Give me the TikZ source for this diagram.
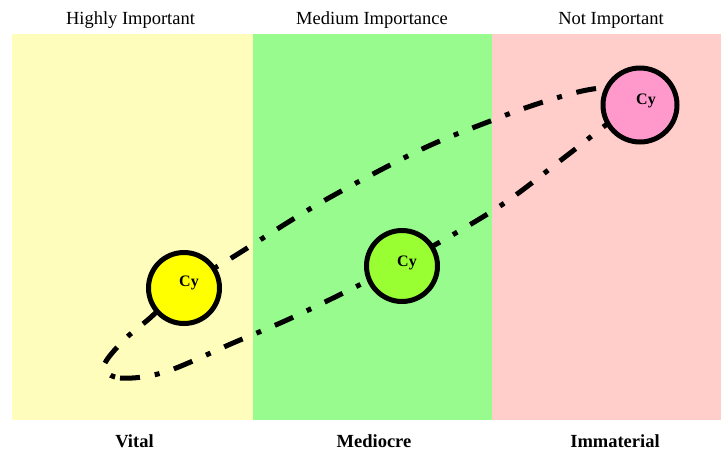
\documentclass[tikz,border=0pt]{standalone}
\usepackage{fontspec}
\setmainfont{Liberation Serif}
\definecolor{panelY}{RGB}{255,253,187}
\definecolor{panelG}{RGB}{152,251,142}
\definecolor{panelR}{RGB}{255,205,202}
\definecolor{circY}{RGB}{255,255,0}
\definecolor{circG}{RGB}{153,255,51}
\definecolor{circP}{RGB}{255,153,204}
\begin{document}
\begin{tikzpicture}[x=1pt,y=-1pt,
  toplabel/.style={anchor=base,font=\fontsize{18.5}{20}\selectfont},
  botlabel/.style={anchor=base,font=\fontsize{18.5}{20}\selectfont\bfseries},
  cynode/.style={circle,draw=black,line width=5pt,minimum size=71pt,inner sep=0pt},
  cytext/.style={font=\fontsize{16}{16}\selectfont\bfseries},
  loopline/.style={line width=5pt,dash pattern=on 20pt off 15pt on 5pt off 15pt}
]
\useasboundingbox (0,0) rectangle (721,453);
% panels
\fill[panelY] (12,34) rectangle (253,420);
\fill[panelG] (253,34) rectangle (492,420);
\fill[panelR] (492,34) rectangle (721,420);
% headings
\node[toplabel] (h1) at (130.5,24) {Highly Important};
\node[toplabel] (h2) at (372,24) {Medium Importance};
\node[toplabel] (h3) at (611,24) {Not Important};
\node[botlabel] (b1) at (134.5,447) {Vital};
\node[botlabel] (b2) at (374,447) {Mediocre};
\node[botlabel] (b3) at (615,447) {Immaterial};
% loop
\draw[loopline] plot[smooth cycle,tension=0.55] coordinates {
  (104,366) (120,378) (165,372) (233,343) (300,314) (402,263) (497,208)
  (565,157) (615,118) (648,96) (625,87) (587,90) (540,103) (493,120)
  (420,150) (320,203) (233,257) (184,287) (150,318) (124,340)};
% circles
\node[cynode,fill=circY,label={[cytext,xshift=5pt,yshift=5pt]center:Cy}] (c1) at (184,288) {};
\node[cynode,fill=circG,label={[cytext,xshift=5pt,yshift=3pt]center:Cy}] (c2) at (402,266) {};
\node[cynode,fill=circP,minimum size=74pt,label={[cytext,xshift=6pt,yshift=4pt]center:Cy}] (c3) at (640,105) {};
\end{tikzpicture}
\end{document}
